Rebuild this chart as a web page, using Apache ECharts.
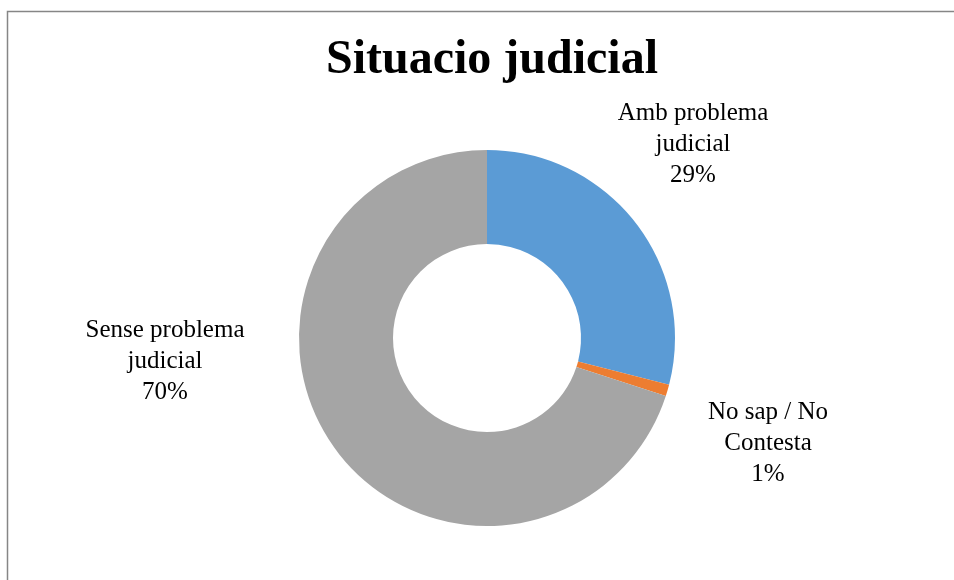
<!DOCTYPE html>
<html>
<head>
<meta charset="utf-8">
<script src="https://cdn.jsdelivr.net/npm/echarts@6/dist/echarts.min.js"></script>
<style>
html,body{margin:0;padding:0;background:#fff;}
#chart{width:954px;height:580px;}
</style>
</head>
<body>
<div id="chart"></div>
<script>
const titleText = 'Situacio judicial';
const categories = ['Amb problema\njudicial', 'No sap / No\nContesta', 'Sense problema\njudicial'];
const values = [29, 1, 70];
const colors = ['#5B9BD5', '#ED7D31', '#A5A5A5'];

const labelPos = [
  {x: 693, y: 144},
  {x: 768, y: 443},
  {x: 165, y: 361}
];

const chart = echarts.init(document.getElementById('chart'));
chart.setOption({
  animation: false,
  backgroundColor: '#fff',
  title: {
    text: titleText,
    left: 321,
    top: 32,
    textStyle: {fontFamily: 'Liberation Serif', fontWeight: 'bold', fontSize: 48, color: '#000'}
  },
  graphic: [{
    type: 'rect',
    shape: {x: 7.5, y: 11.5, width: 1000, height: 1000},
    style: {fill: 'none', stroke: '#868686', lineWidth: 1.5},
    silent: true
  }],
  series: [{
    type: 'pie',
    center: [487, 338],
    radius: [94, 188],
    startAngle: 90,
    clockwise: true,
    data: categories.map((c, i) => ({name: c, value: values[i], itemStyle: {color: colors[i]}})),
    itemStyle: {borderColor: '#fff', borderWidth: 0},
    label: {
      show: true,
      formatter: p => p.name + '\n' + Math.round(p.percent) + '%',
      fontFamily: 'Liberation Serif',
      fontSize: 25,
      lineHeight: 31,
      color: '#000',
      align: 'center'
    },
    labelLine: {show: false},
    labelLayout: function (params) {
      const p = labelPos[params.dataIndex];
      return {x: p.x, y: p.y, align: 'center', verticalAlign: 'middle'};
    }
  }]
});
</script>
</body>
</html>
